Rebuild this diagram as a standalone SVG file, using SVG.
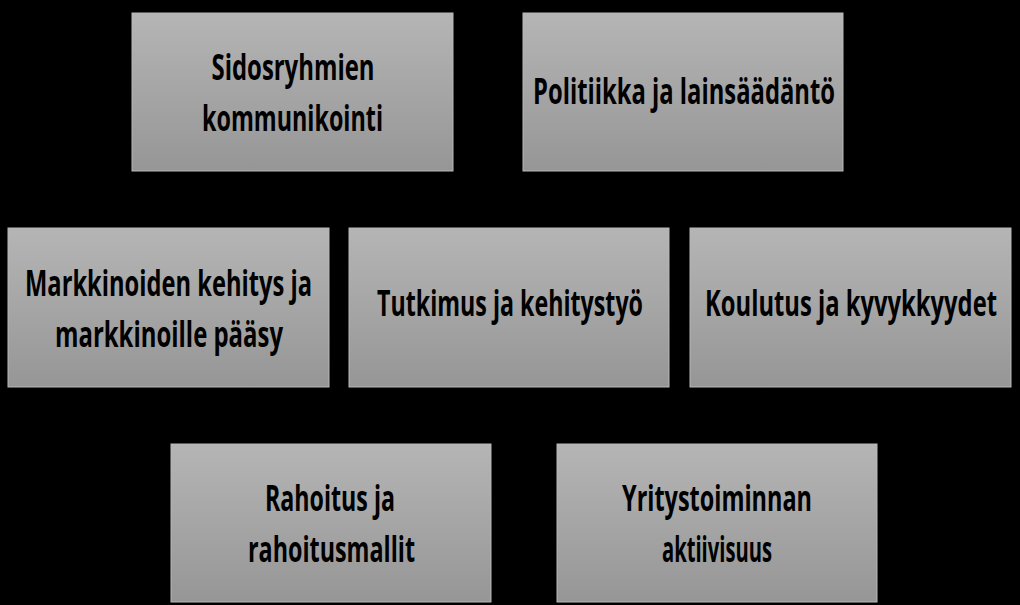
<svg xmlns="http://www.w3.org/2000/svg" width="1020" height="605" viewBox="0 0 1020 605">
<defs>
<linearGradient id="g" x1="0" y1="0" x2="0" y2="1">
<stop offset="0" stop-color="#b5b5b5"/>
<stop offset="1" stop-color="#969696"/>
</linearGradient>
</defs>
<style>
.box{fill:url(#g);stroke:#b8b8b8;stroke-width:1}
.t{font-family:"Open Sans","Liberation Sans",sans-serif;font-weight:bold;font-size:36px;fill:#000;text-anchor:middle}
</style>
<rect x="0" y="0" width="1020" height="605" fill="#000"/>
<g id="connectors"></g>
<g id="n1">
<rect class="box" x="132" y="13" width="321" height="158"/>
<text class="t" x="293" y="80" textLength="163" lengthAdjust="spacingAndGlyphs">Sidosryhmien</text>
<text class="t" x="292.5" y="131" textLength="181" lengthAdjust="spacingAndGlyphs">kommunikointi</text>
</g>
<g id="n2">
<rect class="box" x="523" y="13" width="320" height="158"/>
<text class="t" x="684" y="104" textLength="302" lengthAdjust="spacingAndGlyphs">Politiikka ja lainsäädäntö</text>
</g>
<g id="n3">
<rect class="box" x="8" y="228" width="321" height="159"/>
<text class="t" x="168.5" y="295.5" textLength="287" lengthAdjust="spacingAndGlyphs">Markkinoiden kehitys ja</text>
<text class="t" x="169" y="347" textLength="228" lengthAdjust="spacingAndGlyphs">markkinoille pääsy</text>
</g>
<g id="n4">
<rect class="box" x="349" y="228" width="320" height="159"/>
<text class="t" x="510" y="316" textLength="266" lengthAdjust="spacingAndGlyphs">Tutkimus ja kehitystyö</text>
</g>
<g id="n5">
<rect class="box" x="690" y="228" width="321" height="159"/>
<text class="t" x="851" y="316" textLength="292" lengthAdjust="spacingAndGlyphs">Koulutus ja kyvykkyydet</text>
</g>
<g id="n6">
<rect class="box" x="171" y="444" width="320" height="158"/>
<text class="t" x="330" y="510.5" textLength="130" lengthAdjust="spacingAndGlyphs">Rahoitus ja</text>
<text class="t" x="331.5" y="561.5" textLength="167" lengthAdjust="spacingAndGlyphs">rahoitusmallit</text>
</g>
<g id="n7">
<rect class="box" x="557" y="444" width="320" height="158"/>
<text class="t" x="717" y="510.5" textLength="190" lengthAdjust="spacingAndGlyphs">Yritystoiminnan</text>
<text class="t" x="717" y="561.5" textLength="110" lengthAdjust="spacingAndGlyphs">aktiivisuus</text>
</g>
</svg>
